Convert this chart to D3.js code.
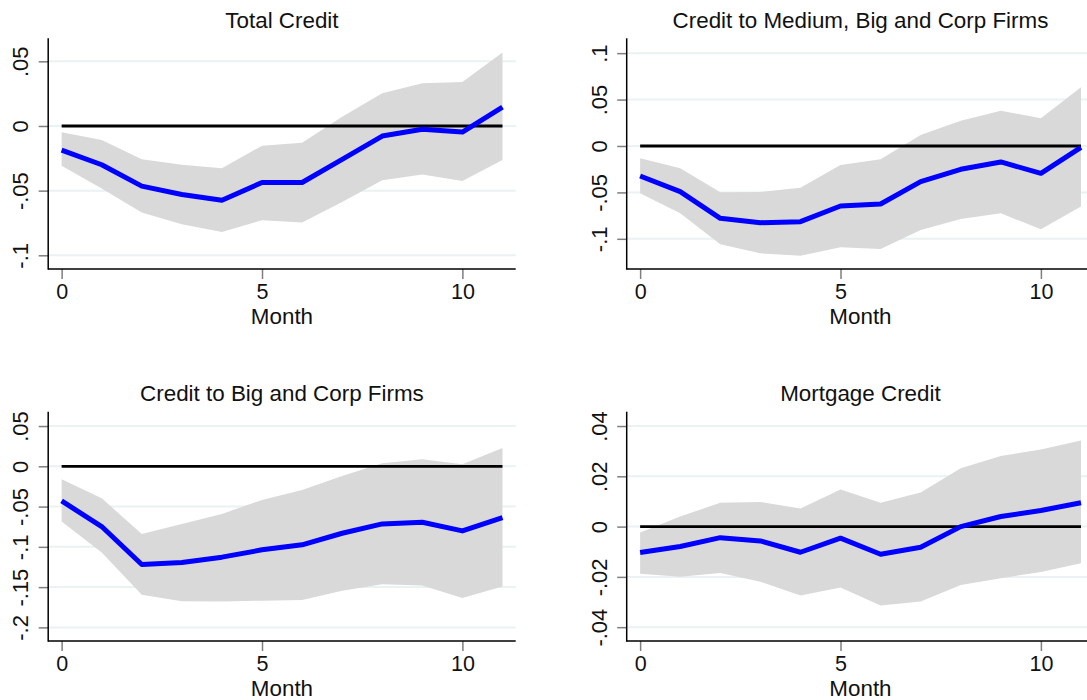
<!DOCTYPE html>
<html><head><meta charset="utf-8">
<script src="https://cdn.jsdelivr.net/npm/d3@7/dist/d3.min.js"></script>
<style>html,body{margin:0;padding:0;background:#fff;}svg{display:block;}</style>
</head><body>
<svg id="chart" width="1087" height="700"></svg>
<script>
const months = [0,1,2,3,4,5,6,7,8,9,10,11];
const xTicks = [0,5,10];
const titles = ["Total Credit","Credit to Medium, Big and Corp Firms","Credit to Big and Corp Firms","Mortgage Credit"];

const totalMid   = [-0.0186,-0.030,-0.0465,-0.053,-0.0574,-0.0437,-0.0437,-0.0258,-0.0078,-0.0026,-0.0047,0.0145];
const totalHi    = [-0.0049,-0.0109,-0.0258,-0.030,-0.0326,-0.0152,-0.0129,0.0072,0.0253,0.0331,0.0341,0.0568];
const totalLo    = [-0.0307,-0.0483,-0.0669,-0.076,-0.0819,-0.0729,-0.0747,-0.0587,-0.0419,-0.0375,-0.0426,-0.0264];

const medMid = [-0.0323,-0.0492,-0.0779,-0.0826,-0.0815,-0.0646,-0.0625,-0.0384,-0.0251,-0.0172,-0.0294,-0.0014];
const medHi  = [-0.0133,-0.024,-0.0499,-0.0495,-0.0449,-0.0205,-0.0144,0.0118,0.0273,0.038,0.0298,0.0632];
const medLo  = [-0.051,-0.0725,-0.1059,-0.1156,-0.1181,-0.1091,-0.1109,-0.0905,-0.0786,-0.0725,-0.0897,-0.0653];

const bigMid = [-0.043,-0.0748,-0.1219,-0.1194,-0.1128,-0.1037,-0.0975,-0.0831,-0.0715,-0.0694,-0.0802,-0.0636];
const bigHi  = [-0.0161,-0.0397,-0.0839,-0.0715,-0.0591,-0.0417,-0.0293,-0.012,0.0037,0.0087,0.0025,0.0227];
const bigLo  = [-0.0686,-0.107,-0.1595,-0.1674,-0.1678,-0.1669,-0.1661,-0.1545,-0.1463,-0.1479,-0.1636,-0.1492];

const mortMid = [-0.0103,-0.0079,-0.0044,-0.0057,-0.0102,-0.0046,-0.011,-0.0082,0.0,0.004,0.0064,0.0095];
const mortHi  = [-0.0023,0.004,0.0095,0.0098,0.0072,0.0148,0.0095,0.0136,0.0232,0.0281,0.0307,0.0342];
const mortLo  = [-0.0188,-0.0199,-0.0185,-0.0219,-0.0274,-0.0242,-0.0314,-0.0298,-0.0232,-0.0205,-0.0181,-0.0146];

const yTicks1 = [0.05,0,-0.05,-0.1];
const yTicks2 = [0.1,0.05,0,-0.05,-0.1];
const yTicks3 = [0.05,0,-0.05,-0.1,-0.15,-0.2];
const yTicks4 = [0.04,0.02,0,-0.02,-0.04];
const yLabels1 = [".05","0","-.05","-.1"];
const yLabels2 = [".1",".05","0","-.05","-.1"];
const yLabels3 = [".05","0","-.05","-.1","-.15","-.2"];
const yLabels4 = [".04",".02","0","-.02","-.04"];

const yDomains = [[-0.1106,0.0678],[-0.1325,0.116],[-0.2169,0.0678],[-0.0455,0.0457]];

const panels = [
  {title:titles[0], mid:totalMid, hi:totalHi, lo:totalLo, ticks:yTicks1, labels:yLabels1, dom:yDomains[0], left:48.2, top:38.3, bottom:269},
  {title:titles[1], mid:medMid, hi:medHi, lo:medLo, ticks:yTicks2, labels:yLabels2, dom:yDomains[1], left:626.7, top:38.3, bottom:269},
  {title:titles[2], mid:bigMid, hi:bigHi, lo:bigLo, ticks:yTicks3, labels:yLabels3, dom:yDomains[2], left:48.2, top:411.7, bottom:641},
  {title:titles[3], mid:mortMid, hi:mortHi, lo:mortLo, ticks:yTicks4, labels:yLabels4, dom:yDomains[3], left:626.7, top:411.7, bottom:641}
];
const plotW = 467.5;
const FONT = "'Liberation Sans', Arial, sans-serif";
const svg = d3.select("#chart");

panels.forEach(p => {
  const g = svg.append("g");
  const x = d3.scaleLinear().domain([-0.335, 11.33]).range([p.left, p.left + plotW]);
  const y = d3.scaleLinear().domain(p.dom).range([p.bottom, p.top]);

  // gridlines
  g.selectAll(".grid").data(p.ticks).enter().append("line")
    .attr("x1", p.left).attr("x2", p.left + plotW)
    .attr("y1", d => y(d)).attr("y2", d => y(d))
    .attr("stroke", "#eaf2f3").attr("stroke-width", 2);

  // band
  const area = d3.area().x((d,i) => x(months[i])).y0((d,i) => y(p.lo[i])).y1((d,i) => y(p.hi[i]));
  g.append("path").datum(p.mid).attr("d", area).attr("fill", "#d9d9d9");

  // zero line
  g.append("line").attr("x1", x(0)).attr("x2", x(11)).attr("y1", y(0)).attr("y2", y(0))
    .attr("stroke", "#000").attr("stroke-width", 2.8);

  // mid line
  const line = d3.line().x((d,i) => x(months[i])).y(d => y(d));
  g.append("path").datum(p.mid).attr("d", line).attr("fill", "none")
    .attr("stroke", "#0000ff").attr("stroke-width", 5).attr("stroke-linejoin", "round");

  // axes
  const yAxis = d3.axisLeft(y).tickValues(p.ticks).tickSize(9.5).tickPadding(10)
    .tickFormat((d,i) => p.labels[i]);
  const ya = g.append("g").attr("transform", `translate(${p.left},0)`).call(yAxis);
  ya.select(".domain").remove();
  ya.selectAll(".tick line").attr("stroke", "#7f7f7f").attr("stroke-width", 1.5);
  ya.selectAll(".tick text")
    .attr("transform", "rotate(-90)").attr("x", 0).attr("y", -20).attr("dy", 0)
    .attr("text-anchor", "middle")
    .attr("font-family", FONT).attr("font-size", 22).attr("fill", "#111");

  const xAxis = d3.axisBottom(x).tickValues(xTicks).tickSize(10).tickPadding(4).tickFormat(d3.format("d"));
  const xa = g.append("g").attr("transform", `translate(0,${p.bottom})`).call(xAxis);
  xa.select(".domain").remove();
  xa.selectAll(".tick line").attr("stroke", "#7f7f7f").attr("stroke-width", 1.5);
  xa.selectAll(".tick text").attr("dy", 0).attr("y", 30)
    .attr("font-family", FONT).attr("font-size", 21.5).attr("fill", "#111");

  // axis lines
  g.append("line").attr("x1", p.left).attr("x2", p.left).attr("y1", p.top).attr("y2", p.bottom + 0.75)
    .attr("stroke", "#000").attr("stroke-width", 1.5);
  g.append("line").attr("x1", p.left).attr("x2", p.left + plotW).attr("y1", p.bottom).attr("y2", p.bottom)
    .attr("stroke", "#000").attr("stroke-width", 1.5);

  // title
  g.append("text").attr("x", p.left + plotW/2).attr("y", p.top - 10.5)
    .attr("text-anchor", "middle").attr("font-family", FONT).attr("font-size", 22.4).attr("fill", "#111")
    .text(p.title);
  // x label
  g.append("text").attr("x", p.left + plotW/2).attr("y", p.bottom + 54.5)
    .attr("text-anchor", "middle").attr("font-family", FONT).attr("font-size", 22.4).attr("fill", "#111")
    .text("Month");
});
</script>
</body></html>
